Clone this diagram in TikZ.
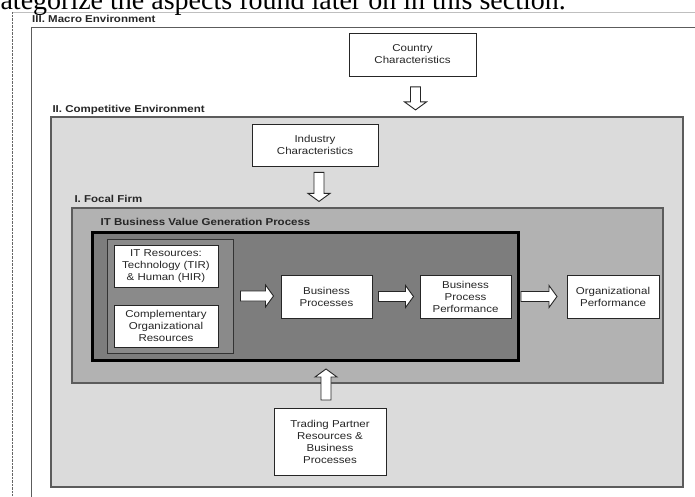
\documentclass[tikz,border=0pt]{standalone}
\usepackage{fontspec}
\setmainfont{Liberation Sans}[FakeStretch=1.15]
\newfontfamily\pageserif{Liberation Serif}
\usetikzlibrary{calc,positioning}
\definecolor{compfill}{gray}{0.86}
\definecolor{focalfill}{gray}{0.70}
\definecolor{valuefill}{gray}{0.49}
\definecolor{resfill}{gray}{0.54}
\definecolor{edgegray}{gray}{0.36}
\definecolor{inkgray}{gray}{0.15}
% hollow block arrow: name, centre, length, direction
\newcommand{\blockarrow}[4]{%
  \coordinate (#1) at (#2);
  \draw [blockline,shift={(#1)},rotate=#4] ({-#3/2},-5) -- ({#3/2-8},-5) -- ({#3/2-8},-11) -- ({#3/2},0) -- ({#3/2-8},11) -- ({#3/2-8},5) -- ({-#3/2},5) -- cycle;}

\begin{document}
\begin{tikzpicture}[x=1pt,y=-1pt,
  every node/.style={align=center,inner sep=0pt,text=inkgray,font=\fontsize{10}{12}\selectfont},
  region/.style={draw=edgegray,line width=1.3pt,rectangle},
  box/.style={draw=black!85,fill=white,line width=1pt},
  tag/.style={font=\fontsize{10}{12}\selectfont\bfseries,anchor=base west},
  blockline/.style={draw=black!85,fill=white,line width=0.9pt,line join=miter}]
\useasboundingbox (0,0) rectangle (695,496);
\clip (0,0) rectangle (695,496);
% page around the figure
\draw [black!25,line width=0.8pt] (12,12) -- (695,12);
\node [font=\pageserif\fontsize{28}{28}\selectfont,text=black,anchor=base east] (PageText) at (566,9) {categorize the aspects found later on in this section.};
\draw [black!60,densely dotted] (12,12) -- (12,496);
% nested environments
\node [region,fill=white,anchor=north west,minimum width=700,minimum height=500] (Macro) at (31,27) {};
\node [tag] (MacroTag) at ($(Macro.north west)+(1pt,5pt)$) {III. Macro Environment};
\node [region,fill=compfill,minimum width=632,minimum height=370] (Competitive) at (367,302) {};
\node [tag] (CompetitiveTag) at ($(Competitive.north west)+(2pt,4pt)$) {II. Competitive Environment};
\node [region,fill=focalfill,minimum width=591,minimum height=175] (Focal) at (367.5,295.5) {};
\node [tag] (FocalTag) at ($(Focal.north west)+(3pt,5pt)$) {I. Focal Firm};
\node [draw=black,line width=3pt,fill=valuefill,minimum width=426,minimum height=128] (ValueProcess) at (305,296) {};
\node [tag] (ValueTag) at ($(ValueProcess.north west)+(10pt,5pt)$) {IT Business Value Generation Process};
\node [draw=black!80,line width=1pt,fill=resfill,minimum width=126,minimum height=114] (Resources) at (170,296) {};
% boxes
\node [box,minimum width=104,minimum height=42] (ITResources) at (166,266) {IT Resources:\\Technology (TIR)\\\& Human (HIR)};
\node [box,minimum width=104,minimum height=42] (OrgResources) at (166,326) {Complementary\\Organizational\\Resources};
\node [box,minimum width=91,minimum height=43] (BusProc) at (326.5,296.5) {Business\\Processes};
\node [box,minimum width=91,minimum height=43,right=47pt of BusProc] (BusPerf) {Business\\Process\\Performance};
\node [box,minimum width=92,minimum height=43,right=55pt of BusPerf] (OrgPerf) {Organizational\\Performance};
\node [box,minimum width=127,minimum height=43] (Country) at (412.5,54.5) {Country\\Characteristics};
\node [box,minimum width=126,minimum height=42] (Industry) at (315,145) {Industry\\Characteristics};
\node [box,minimum width=112,minimum height=67] (Trading) at (330,441.5) {Trading Partner\\Resources \&\\Business\\Processes};
% block arrows
\blockarrow{CountryArrow}{$(Country.south)!0.55!(Country.south |- Competitive.north)+(3pt,0)$}{23}{-90}
\blockarrow{IndustryArrow}{$(Industry.south)!0.5!(Industry.south |- Focal.north)+(4pt,0)$}{29}{-90}
\blockarrow{TradingArrow}{$(Trading.north)!0.5!(Trading.north |- ValueProcess.south)+(-4pt,0)$}{31}{90}
\blockarrow{ResArrow}{$(Resources.east)!0.5!(Resources.east -| BusProc.west)$}{33}{0}
\blockarrow{ProcArrow}{$(BusProc.east)!0.5!(BusPerf.west)$}{35}{0}
\blockarrow{PerfArrow}{$(BusPerf.east)!0.5!(OrgPerf.west)$}{36}{0}
\end{tikzpicture}
\end{document}
